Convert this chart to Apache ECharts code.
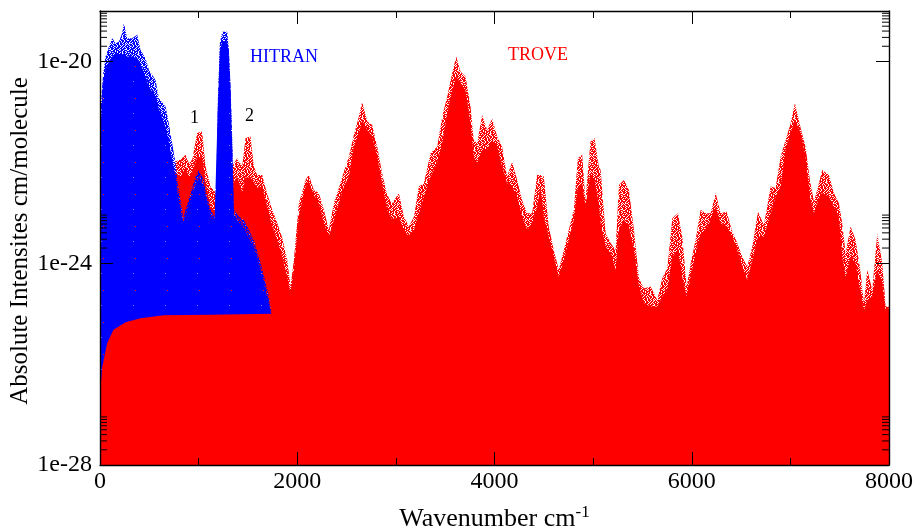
<!DOCTYPE html>
<html>
<head>
<meta charset="utf-8">
<title>HITRAN / TROVE</title>
<script src="https://cdn.jsdelivr.net/npm/echarts@6/dist/echarts.min.js"></script>
<style>
html,body{margin:0;padding:0;background:#fff}
#chart{width:918px;height:529px}
</style>
</head>
<body>
<div id="chart"></div>
<script>
// all intensities below are log10(cm/molecule)
var troveX = [0,12,56,124,242,327,411,496,597,698,732,766,817,867,901,935,985,1036,1070,1121,1150,1171,1391,1442,1476,1526,1560,1594,1645,1678,1746,1797,1848,1898,1932,1966,2016,2067,2083,2117,2168,2219,2270,2320,2371,2422,2473,2523,2574,2625,2658,2710,2760,2811,2861,2912,2963,3030,3081,3132,3183,3233,3284,3351,3419,3470,3520,3571,3612,3655,3706,3757,3790,3824,3875,3925,3976,4027,4077,4128,4179,4230,4280,4331,4382,4432,4466,4500,4550,4601,4652,4703,4753,4804,4845,4889,4922,4973,5014,5057,5076,5127,5177,5228,5262,5313,5363,5414,5465,5515,5583,5650,5701,5752,5803,5860,5904,5948,5989,6039,6090,6141,6191,6242,6293,6354,6411,6462,6512,6563,6614,6671,6732,6800,6850,6901,6951,7002,7046,7104,7154,7198,7239,7272,7323,7391,7441,7492,7526,7560,7611,7661,7705,7746,7780,7830,7881,7932,7966,8000];
var troveTop = [-21.8,-21.05,-20.15,-19.9,-19.75,-19.9,-20.05,-20.5,-20.95,-21.6,-21.95,-21.98,-21.95,-21.85,-22.02,-21.95,-21.42,-21.39,-22.08,-22.48,-22.55,-22.6,-21.92,-22.08,-21.52,-21.49,-22.08,-22.25,-22.25,-22.51,-22.94,-23.2,-23.5,-23.93,-24.46,-23.93,-22.81,-22.48,-22.35,-22.25,-22.55,-22.61,-22.94,-23.34,-22.81,-22.51,-22.18,-21.89,-21.46,-21.09,-20.8,-21.19,-21.26,-21.69,-22.22,-22.65,-22.81,-22.61,-23.08,-23.27,-23.08,-22.48,-22.42,-21.82,-21.69,-21.09,-20.7,-20.23,-19.9,-20.2,-20.3,-20.9,-21.56,-21.62,-21.06,-21.36,-21.13,-21.49,-21.69,-22.28,-21.99,-22.35,-22.75,-23.01,-23.01,-22.25,-22.25,-22.28,-23.27,-23.74,-24.13,-23.74,-23.34,-22.94,-21.92,-21.85,-22.75,-21.59,-21.52,-22.08,-22.15,-23.41,-23.6,-23.74,-22.45,-22.35,-22.55,-23.34,-24.3,-24.5,-24.46,-24.73,-24.3,-24.1,-23.11,-23.01,-23.47,-24.46,-24,-23.54,-22.94,-23.01,-23.01,-22.61,-23.01,-22.98,-23.37,-23.6,-23.87,-24.07,-23.67,-22.98,-23.24,-22.48,-22.51,-21.89,-21.56,-21.23,-20.83,-21.32,-21.69,-22.35,-22.78,-22.55,-22.15,-22.25,-22.61,-22.81,-23.21,-23.8,-23.27,-23.54,-24.07,-24.79,-24.13,-24.53,-23.41,-24,-24.86,-24.86];
var troveSolid = [-22,-21.2,-20.3,-20.1,-20,-20,-20.2,-20.7,-21.1,-21.8,-22.1,-22.2,-22.28,-22.1,-22.3,-22.2,-21.9,-21.9,-22.4,-22.9,-22.95,-22.95,-22.28,-22.6,-22.3,-22.3,-22.4,-22.5,-22.48,-22.75,-23.27,-23.54,-23.87,-24.27,-24.6,-24.13,-23.07,-22.61,-22.48,-22.38,-22.65,-22.81,-23.21,-23.47,-23.14,-22.81,-22.48,-22.28,-21.69,-21.42,-21.16,-21.36,-21.49,-21.89,-22.42,-22.94,-23.14,-23.08,-23.34,-23.47,-23.34,-23.01,-22.68,-22.28,-22.02,-21.62,-21.03,-20.57,-20.3,-20.43,-20.57,-21.23,-21.89,-22.02,-21.75,-21.75,-21.56,-21.69,-22.08,-22.41,-22.48,-22.68,-23.08,-23.34,-23.21,-22.88,-22.48,-23.08,-23.47,-23.87,-24.27,-23.93,-23.54,-23.14,-22.48,-22.42,-22.88,-22.22,-22.35,-22.81,-23.21,-23.67,-23.8,-24.13,-23.34,-23.14,-23.27,-23.74,-24.46,-24.79,-24.86,-24.86,-24.66,-24.53,-23.87,-23.74,-24.27,-24.66,-24.27,-23.8,-23.41,-23.34,-23.14,-22.88,-23.21,-23.27,-23.47,-23.74,-24.07,-24.33,-23.94,-23.47,-23.47,-23.01,-22.68,-22.48,-21.75,-21.42,-21.16,-21.42,-21.89,-22.68,-23.01,-22.81,-22.61,-22.68,-22.88,-23.08,-23.87,-24.27,-23.87,-24,-24.53,-24.93,-24.73,-24.66,-24.13,-24.4,-24.93,-24.89];
var hitranX = [0,12,32,56,90,124,158,191,225,242,276,327,377,411,462,496,563,597,665,698,732,766,783,817,844,867,918,969,1003,1053,1087,1121,1161,1175,1195,1215,1239,1290,1307,1324,1341,1357,1408,1459,1510,1560,1611,1662,1712,1739];
var hitranTop = [-21.6,-20.76,-20.24,-19.9,-19.71,-19.54,-19.64,-19.61,-19.44,-19.24,-19.54,-19.54,-19.47,-19.77,-19.94,-20.17,-20.37,-20.73,-20.9,-21.23,-21.62,-22.02,-22.35,-22.75,-23.11,-22.94,-22.61,-22.28,-22.15,-22.35,-22.68,-22.94,-23.08,-23,-20.76,-19.64,-19.41,-19.41,-19.77,-20.5,-21.56,-22.94,-23.08,-23.14,-23.34,-23.54,-23.87,-24.26,-24.66,-24.99];
var hitranSolid = [-21.8,-21.05,-20.4,-20.15,-20,-19.9,-19.85,-19.85,-19.85,-19.85,-19.9,-19.9,-19.95,-20.05,-20.3,-20.5,-20.7,-20.95,-21.3,-21.6,-21.95,-22.3,-22.6,-22.95,-23.2,-23.05,-22.75,-22.45,-22.3,-22.5,-22.8,-23.05,-23.2,-23.2,-20.9,-19.8,-19.6,-19.6,-19.9,-20.6,-21.7,-23.05,-23.2,-23.3,-23.5,-23.7,-24,-24.4,-24.8,-25.05];
var floorX = [0,5,22,73,137,259,411,644,1116,1745,8000];
var troveFloor = [-26.77,-26.5,-26.06,-25.58,-25.32,-25.17,-25.09,-25.03,-25.02,-25,-25];
var yMajorLogs = [-28,-24,-20];
var yMinorSteps = [2,3,4,5,6,7,8,9];

var fringeRows = [
    '##.####.##.###.#',
    '#.###+.#.###+..#',
    '.##.###.+##.###.',
    '###.#.####.##.+#',
    '.+###.##.#.###.#',
    '##.####.##.+#.##',
    '#.#+#.###..####.',
    '####.##.##+.##.#',
    '.##.##.#.###.##.',
    '##.###+##.##.###',
    '#.##.##.#+#.##.#',
    '#.+.###.##.##.#.',
    '.###.##.###.#+.#',
    '#.###.##.#.##.##',
    '##.+#.###.##.##.',
    '#.##.###.##.#.##'
];
var holeRows = [
    '#############################.##',
    '################################',
    '#######.########################',
    '################################',
    '################################',
    '#####################.##########',
    '################################',
    '################################',
    '##.#############################',
    '################################',
    '#############.##################',
    '################################',
    '################################',
    '################################',
    '###########################.####',
    '################################',
    '################################',
    '#####.##########################',
    '################################',
    '################################',
    '##################.#############',
    '################################',
    '################################',
    '################################',
    '##########.#####################',
    '###############################.',
    '################################',
    '################################',
    '#.##############################',
    '#######################.########',
    '################################',
    '################################'
];

function makePattern(color, paleColor, rows) {
    var size = rows.length;
    var canvas = document.createElement('canvas');
    canvas.width = size;
    canvas.height = size;
    var ctx = canvas.getContext('2d');
    for (var r = 0; r < size; r++) {
        for (var c = 0; c < size; c++) {
            var ch = rows[r].charAt(c);
            if (ch === '.') {
                continue;
            }
            ctx.fillStyle = ch === '#' ? color : paleColor;
            ctx.fillRect(c, r, 1, 1);
        }
    }
    return { image: canvas, repeat: 'repeat' };
}

function toPoints(xs, logs) {
    var points = [];
    for (var i = 0; i < xs.length; i++) {
        points.push([xs[i], Math.pow(10, logs[i])]);
    }
    return points;
}

function minorTickValues() {
    var values = [];
    for (var i = 0; i < yMajorLogs.length; i++) {
        for (var j = 0; j < yMinorSteps.length; j++) {
            values.push([0, yMinorSteps[j] * Math.pow(10, yMajorLogs[i])]);
        }
    }
    return values;
}

function areaSeries(name, points, fill) {
    return {
        name: name,
        type: 'line',
        data: points,
        symbol: 'none',
        silent: true,
        animation: false,
        lineStyle: { width: 0 },
        areaStyle: { color: fill, opacity: 1, origin: 1e-28 }
    };
}

var serif = '"Liberation Serif", "Times New Roman", serif';
var myChart = echarts.init(document.getElementById('chart'), null, { renderer: 'canvas' });

var frameLine = { show: true, onZero: false, lineStyle: { color: '#000', width: 1.4 } };
var majorTick = { show: true, inside: true, length: 13, lineStyle: { color: '#000', width: 1 } };
var minorTick = { show: true, splitNumber: 2, length: 7, lineStyle: { color: '#000', width: 1 } };

function xAxisBase(position, showLabel) {
    return {
        type: 'value', position: position, min: 0, max: 8000, interval: 2000, z: 10,
        axisLine: frameLine, axisTick: majorTick, minorTick: minorTick, splitLine: { show: false },
        axisLabel: {
            show: showLabel, color: '#000', fontFamily: serif, fontSize: 24, margin: 5,
            formatter: function (v) { return String(v); }
        }
    };
}
function yAxisBase(position, showLabel) {
    return {
        type: 'log', logBase: 10, position: position, min: 1e-28, max: 1e-19, interval: 4, z: 10,
        axisLine: frameLine, axisTick: majorTick, splitLine: { show: false }, minorTick: { show: false },
        axisLabel: {
            show: showLabel, color: '#000', fontFamily: serif, fontSize: 24, margin: 8,
            showMinLabel: true, showMaxLabel: false, hideOverlap: false,
            formatter: function (v) {
                var p = Math.round(Math.log(v) / Math.LN10);
                return p === -19 ? '' : '1e' + p;
            }
        }
    };
}

var xBottom = xAxisBase('bottom', true);
xBottom.name = '{t|Wavenumber cm}{s|-1}';
xBottom.nameLocation = 'middle';
xBottom.nameGap = 39;
xBottom.nameMoveOverlap = false;
xBottom.nameTextStyle = {
    rich: {
        t: { fontFamily: serif, fontSize: 26, color: '#000' },
        s: { fontFamily: serif, fontSize: 17, color: '#000', padding: [0, 0, 14, 0] }
    }
};
var yLeft = yAxisBase('left', true);
yLeft.name = 'Absolute Intensites cm/molecule';
yLeft.nameLocation = 'middle';
yLeft.nameGap = 67;
yLeft.nameMoveOverlap = false;
yLeft.nameRotate = 90;
yLeft.nameTextStyle = { fontFamily: serif, fontSize: 25, color: '#000', padding: [0, 6, 0, 0] };

var option = {
    backgroundColor: '#fff',
    animation: false,
    grid: { left: 100, right: 29, top: 11, bottom: 64, outerBoundsMode: 'none' },
    xAxis: [xBottom, xAxisBase('top', false)],
    yAxis: [yLeft, yAxisBase('right', false)],
    series: [
        areaSeries('TROVE', toPoints(troveX, troveTop), makePattern('#ff0000', '#ff9090', fringeRows)),
        areaSeries('TROVE dense', toPoints(troveX, troveSolid), '#ff0000'),
        areaSeries('HITRAN', toPoints(hitranX, hitranTop), makePattern('#0000ff', '#8080ff', fringeRows)),
        areaSeries('HITRAN dense', toPoints(hitranX, hitranSolid), makePattern('#0000ff', '#0000ff', holeRows)),
        areaSeries('TROVE floor', toPoints(floorX, troveFloor), '#ff0000'),
        {
            name: 'y minor ticks',
            type: 'custom',
            silent: true,
            animation: false,
            z: 9,
            clip: false,
            data: minorTickValues(),
            encode: { x: 0, y: 1 },
            renderItem: function (params, api) {
                var left = api.coord([0, api.value(1)]);
                var right = api.coord([8000, api.value(1)]);
                var line = { stroke: '#000', lineWidth: 1 };
                return {
                    type: 'group',
                    children: [
                        { type: 'line', shape: { x1: left[0], y1: left[1], x2: left[0] + 7, y2: left[1] }, style: line },
                        { type: 'line', shape: { x1: right[0], y1: right[1], x2: right[0] - 7, y2: right[1] }, style: line }
                    ]
                };
            }
        }
    ],
    graphic: [
        // the log axis drops its label at 1e-28, the value rounds to 0 inside echarts
        { type: 'text', x: 92, y: 465, z: 20, style: { text: '1e-28', fill: '#000', font: '24px ' + serif, align: 'right', verticalAlign: 'middle' } },
        { type: 'text', left: 250, top: 48, z: 20, style: { text: 'HITRAN', fill: '#0000ff', font: '18px ' + serif } },
        { type: 'text', left: 508, top: 46, z: 20, style: { text: 'TROVE', fill: '#ff0000', font: '18px ' + serif } },
        { type: 'text', left: 190, top: 109, z: 20, style: { text: '1', fill: '#000', font: '18px ' + serif } },
        { type: 'text', left: 245, top: 107, z: 20, style: { text: '2', fill: '#000', font: '18px ' + serif } }
    ]
};

myChart.setOption(option);
window.onresize = myChart.resize;
</script>
</body>
</html>
